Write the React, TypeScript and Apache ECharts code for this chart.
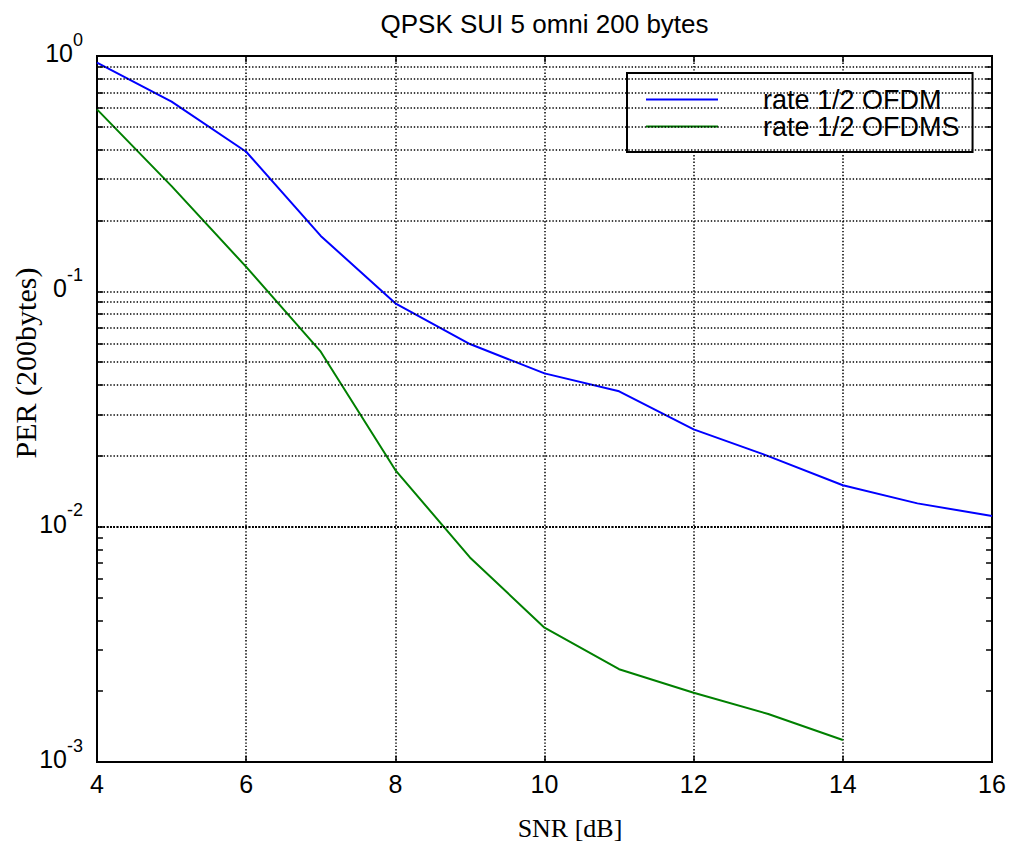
import React, { useEffect, useRef } from "react";
import * as echarts from "echarts";

const snrDb = [4, 5, 6, 7, 8, 9, 10, 11, 12, 13, 14, 15, 16];
const perOfdm = [0.937, 0.64, 0.392, 0.172, 0.0889, 0.0597, 0.0448, 0.0376, 0.0259, 0.01995, 0.015, 0.01256, 0.0111];
const perOfdms = [0.593, 0.28, 0.127, 0.0554, 0.0174, 0.0074, 0.00372, 0.00248, 0.00197, 0.0016, 0.00124];
const seriesNames = ["rate 1/2 OFDM", "rate 1/2 OFDMS"];
const seriesColors = ["#0000ff", "#008000"];
const titleText = "QPSK SUI 5 omni 200 bytes";
const xAxisTitle = "SNR [dB]";
const yAxisTitle = "PER (200bytes)";
const yTickBase: Record<string, string> = { "0": "10", "-1": "0", "-2": "10", "-3": "10" };
const minorDecades = [0.1, 0.01, 0.001];
const minorMultipliers = [2, 3, 4, 5, 6, 7, 8, 9];
const xMin = 4;
const xMax = 16;
const minorTickLen = 0.08;

const SANS = "Arial, 'Liberation Sans', Helvetica, sans-serif";
const SERIF = "'Times New Roman', 'Liberation Serif', 'DejaVu Serif', serif";
const dotted = { type: [1.4, 1.9] as number[], color: "#000", width: 1.5 };

export default function App() {
  const ref = useRef<HTMLDivElement>(null);
  useEffect(() => {
    if (!ref.current) return;
    const chart = echarts.init(ref.current, undefined, { renderer: "svg" });
    const minorValues: number[] = [];
    minorDecades.forEach((d) => minorMultipliers.forEach((m) => minorValues.push(+(d * m).toPrecision(3))));

    const yLabel = (v: number) => {
      const e = Math.round(Math.log10(v));
      return `{b|${yTickBase[String(e)] ?? "10"}}{s|${e}}`;
    };

    const minorTickSegments: any[] = [];
    minorValues.forEach((v) => {
      minorTickSegments.push([{ coord: [xMin, v] }, { coord: [xMin + minorTickLen, v] }]);
      minorTickSegments.push([{ coord: [xMax - minorTickLen, v] }, { coord: [xMax, v] }]);
    });

    chart.setOption({
      animation: false,
      backgroundColor: "#fff",
      grid: { left: 97, right: 21, top: 56, bottom: 84, show: true, borderColor: "#000", borderWidth: 2, backgroundColor: "transparent" },
      xAxis: [
        {
          type: "value", min: xMin, max: xMax, interval: 2,
          axisLine: { show: true, onZero: false, lineStyle: { color: "#000", width: 2 } },
          axisTick: { show: true, inside: true, length: 6, lineStyle: { color: "#000", width: 1.5 } },
          axisLabel: { fontSize: 25, color: "#000", fontFamily: SANS, margin: 9 },
          splitLine: { show: true, lineStyle: dotted },
        },
        {
          type: "value", min: xMin, max: xMax, interval: 2, position: "top",
          axisLine: { show: true, onZero: false, lineStyle: { color: "#000", width: 2 } },
          axisTick: { show: true, inside: true, length: 6, lineStyle: { color: "#000", width: 1.5 } },
          axisLabel: { show: false },
          splitLine: { show: false },
        },
      ],
      yAxis: [
        {
          type: "log", logBase: 10, min: 0.001, max: 1,
          axisLine: { show: true, onZero: false, lineStyle: { color: "#000", width: 2 } },
          axisTick: { show: true, inside: true, length: 6, lineStyle: { color: "#000", width: 1.5 } },
          axisLabel: {
            formatter: yLabel, margin: 14, color: "#000", padding: [0, 0, 16, 0],
            rich: {
              b: { fontSize: 25, fontFamily: SANS, color: "#000", verticalAlign: "bottom" },
              s: { fontSize: 18, fontFamily: SANS, color: "#000", verticalAlign: "bottom", padding: [0, 0, 17, 0] },
            },
          },
          splitLine: { show: true, lineStyle: dotted },
        },
        {
          type: "log", logBase: 10, min: 0.001, max: 1, position: "right",
          axisLine: { show: true, onZero: false, lineStyle: { color: "#000", width: 2 } },
          axisTick: { show: true, inside: true, length: 6, lineStyle: { color: "#000", width: 1.5 } },
          axisLabel: { show: false },
          splitLine: { show: false },
        },
      ],
      legend: {
        orient: "vertical", left: 627, top: 73,
        padding: [13, 13, 12, 19],
        backgroundColor: "#fff", borderColor: "#000", borderWidth: 2,
        itemWidth: 72, itemHeight: 14, itemGap: 0,
        icon: "path://M0,6L72,6L72,8L0,8Z",
        textStyle: { fontSize: 27, fontFamily: SANS, color: "#000", padding: [0, 0, 0, 40], lineHeight: 27 },
        data: seriesNames,
      },
      graphic: [
        { type: "text", x: 544.5, y: 24, style: { text: titleText, fontSize: 26, fontFamily: SANS, fill: "#000", align: "center", verticalAlign: "middle" } },
        { type: "text", x: 570, y: 828, style: { text: xAxisTitle, fontSize: 26, fontFamily: SERIF, fill: "#000", align: "center", verticalAlign: "middle" } },
        { type: "text", x: 25, y: 363, rotation: Math.PI / 2, style: { text: yAxisTitle, fontSize: 30, fontFamily: SERIF, fill: "#000", align: "center", verticalAlign: "middle" } },
      ],
      series: [
        {
          name: seriesNames[0], type: "line", symbol: "none", showSymbol: false,
          lineStyle: { color: seriesColors[0], width: 2 }, itemStyle: { color: seriesColors[0] },
          data: snrDb.map((x, i) => [x, perOfdm[i]]),
          markLine: {
            silent: true, symbol: ["none", "none"], label: { show: false },
            lineStyle: dotted,
            data: minorValues.map((v) => ({ yAxis: v })),
          },
        },
        {
          name: seriesNames[1], type: "line", symbol: "none", showSymbol: false,
          lineStyle: { color: seriesColors[1], width: 2 }, itemStyle: { color: seriesColors[1] },
          data: perOfdms.map((v, i) => [snrDb[i], v]),
          markLine: {
            silent: true, symbol: ["none", "none"], label: { show: false },
            lineStyle: { type: "solid", color: "#000", width: 1.5 },
            data: minorTickSegments,
          },
        },
      ],
    });
    return () => chart.dispose();
  }, []);
  return <div ref={ref} style={{ position: "fixed", left: 0, top: 0, width: 1013, height: 846 }} />;
}
